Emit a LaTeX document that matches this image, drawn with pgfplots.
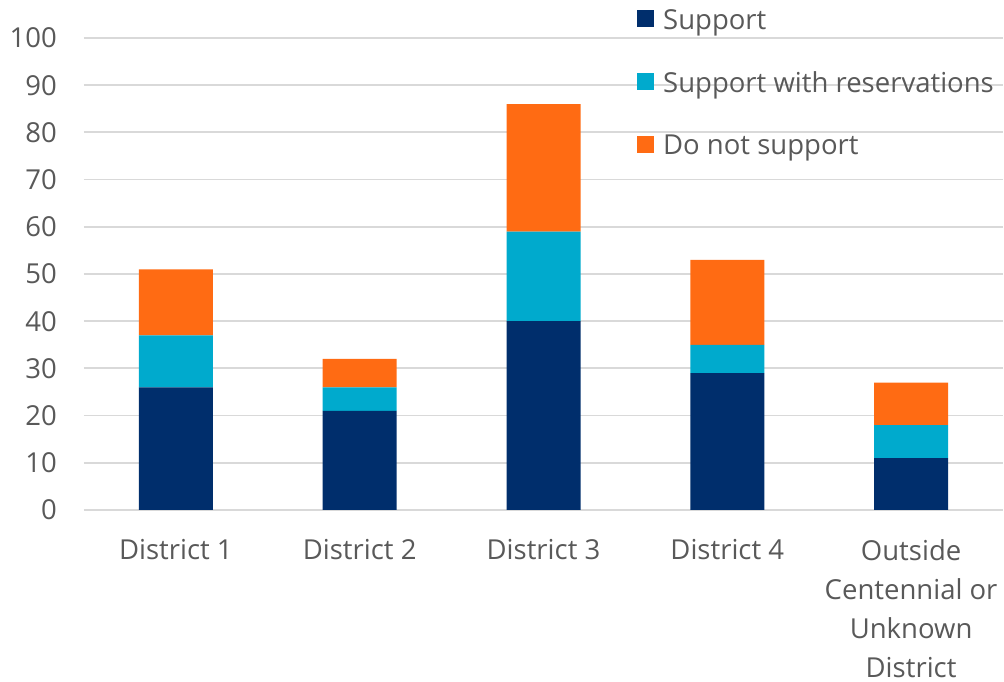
\documentclass[border=0pt]{standalone}
\usepackage{pgfplots}
\pgfplotsset{compat=1.18}
\usepackage{fontspec}
\setmainfont{Open Sans}
\definecolor{navy}{HTML}{002E6C}
\definecolor{cyanb}{HTML}{00AACD}
\definecolor{orangeb}{HTML}{FF6B13}
\definecolor{textgray}{HTML}{595959}
\definecolor{gridgray}{HTML}{D9D9D9}
\begin{document}
\begin{tikzpicture}
\path[use as bounding box] (-84pt,-172pt) rectangle (920pt,510pt);
\begin{axis}[
  scale only axis, width=919pt, height=472pt,
  ybar stacked, bar width=74pt,
  xmin=-0.5, xmax=4.5, ymin=0, ymax=100,
  ytick={0,10,...,100},
  xtick={0,1,2,3,4},
  xticklabels={District 1, District 2, District 3, District 4, {Outside\\Centennial or\\Unknown\\District}},
  axis line style={draw=none},
  major tick length=0pt,
  ymajorgrids, grid style={gridgray, line width=1.8pt},
  /pgf/number format/assume math mode=true,
  tick label style={font=\fontsize{27.5}{39}\selectfont, text=textgray, inner sep=0pt},
  xticklabel style={align=center, anchor=north},
  yticklabel style={anchor=east},
  xticklabel shift=29pt,
  yticklabel shift=27pt,
  legend style={draw=none, fill=none, at={(0.6017,1.0614)}, anchor=north west,
    font=\fontsize{27.5}{33}\selectfont, text=textgray, row sep=41pt, inner sep=0pt,
    nodes={inner sep=0pt}, /tikz/every odd column/.append style={column sep=9pt}},
  legend cell align=left,
  legend image code/.code={\fill[#1] (0pt,-7pt) rectangle (17pt,10pt);},
]
\addplot[fill=navy, draw=none] coordinates {(0,26) (1,21) (2,40) (3,29) (4,11)};
\addplot[fill=cyanb, draw=none] coordinates {(0,11) (1,5) (2,19) (3,6) (4,7)};
\addplot[fill=orangeb, draw=none] coordinates {(0,14) (1,6) (2,27) (3,18) (4,9)};
\legend{Support, Support with reservations, Do not support}
\end{axis}
\end{tikzpicture}
\end{document}
